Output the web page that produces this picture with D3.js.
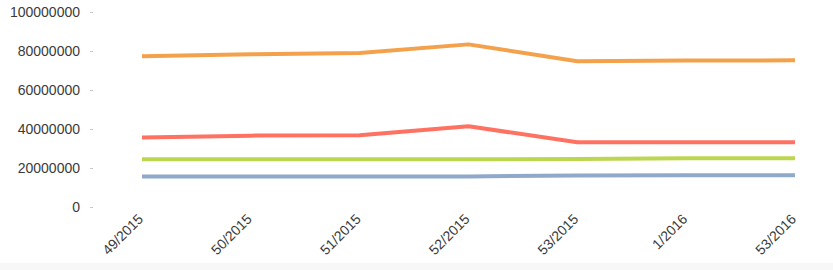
<!DOCTYPE html>
<html>
<head>
<meta charset="utf-8">
<script src="https://cdn.jsdelivr.net/npm/d3@7"></script>
<style>
  body { margin: 0; background: #fff; }
  svg { display: block; font-family: "Liberation Sans", Arial, sans-serif; }
  .axis text { fill: #3a3a3a; font-size: 14px; }
  .axis line { stroke: #c8c8c8; }
  .axis path { display: none; }
</style>
</head>
<body>
<svg width="833" height="270"></svg>
<script>
var weeks = ["49/2015", "50/2015", "51/2015", "52/2015", "53/2015", "1/2016", "53/2016"];
var orange = [77300000, 78300000, 79000000, 83400000, 74700000, 75100000, 75200000];
var red    = [35700000, 36600000, 36800000, 41400000, 33200000, 33200000, 33200000];
var green  = [24500000, 24500000, 24500000, 24500000, 24600000, 25000000, 25000000];
var blue   = [15700000, 15700000, 15700000, 15700000, 16200000, 16300000, 16300000];
var yTicks = [0, 20000000, 40000000, 60000000, 80000000, 100000000];

var series = [
  {values: orange, color: "#f4a14c"},
  {values: red, color: "#ff7161"},
  {values: green, color: "#bdd64f"},
  {values: blue, color: "#8fa9cb"}
];

var svg = d3.select("svg");

// light strip at the bottom of the frame
svg.append("rect")
  .attr("x", 0).attr("y", 263)
  .attr("width", 833).attr("height", 7)
  .attr("fill", "#f7f7f7");

var x = d3.scalePoint().domain(weeks).range([142, 795]);
var y = d3.scaleLinear().domain([0, 100000000]).range([207, 12]);

svg.append("g")
  .attr("class", "axis axis--y")
  .attr("transform", "translate(93,0)")
  .call(d3.axisLeft(y).tickValues(yTicks).tickFormat(d3.format("d")).tickSize(3).tickPadding(10));

svg.append("g")
  .attr("class", "axis axis--x")
  .selectAll("text")
  .data(weeks)
  .enter().append("text")
    .attr("text-anchor", "end")
    .attr("transform", function(d) { return "translate(" + (x(d) + 2) + ",220) rotate(-45)"; })
    .text(function(d) { return d; });

var line = d3.line()
  .x(function(d, i) { return x(weeks[i]); })
  .y(function(d) { return y(d); });

svg.selectAll(".series")
  .data(series)
  .enter().append("path")
    .attr("class", "series")
    .attr("fill", "none")
    .attr("stroke", function(d) { return d.color; })
    .attr("stroke-width", 4)
    .attr("stroke-linejoin", "round")
    .attr("d", function(d) { return line(d.values); });
</script>
</body>
</html>
